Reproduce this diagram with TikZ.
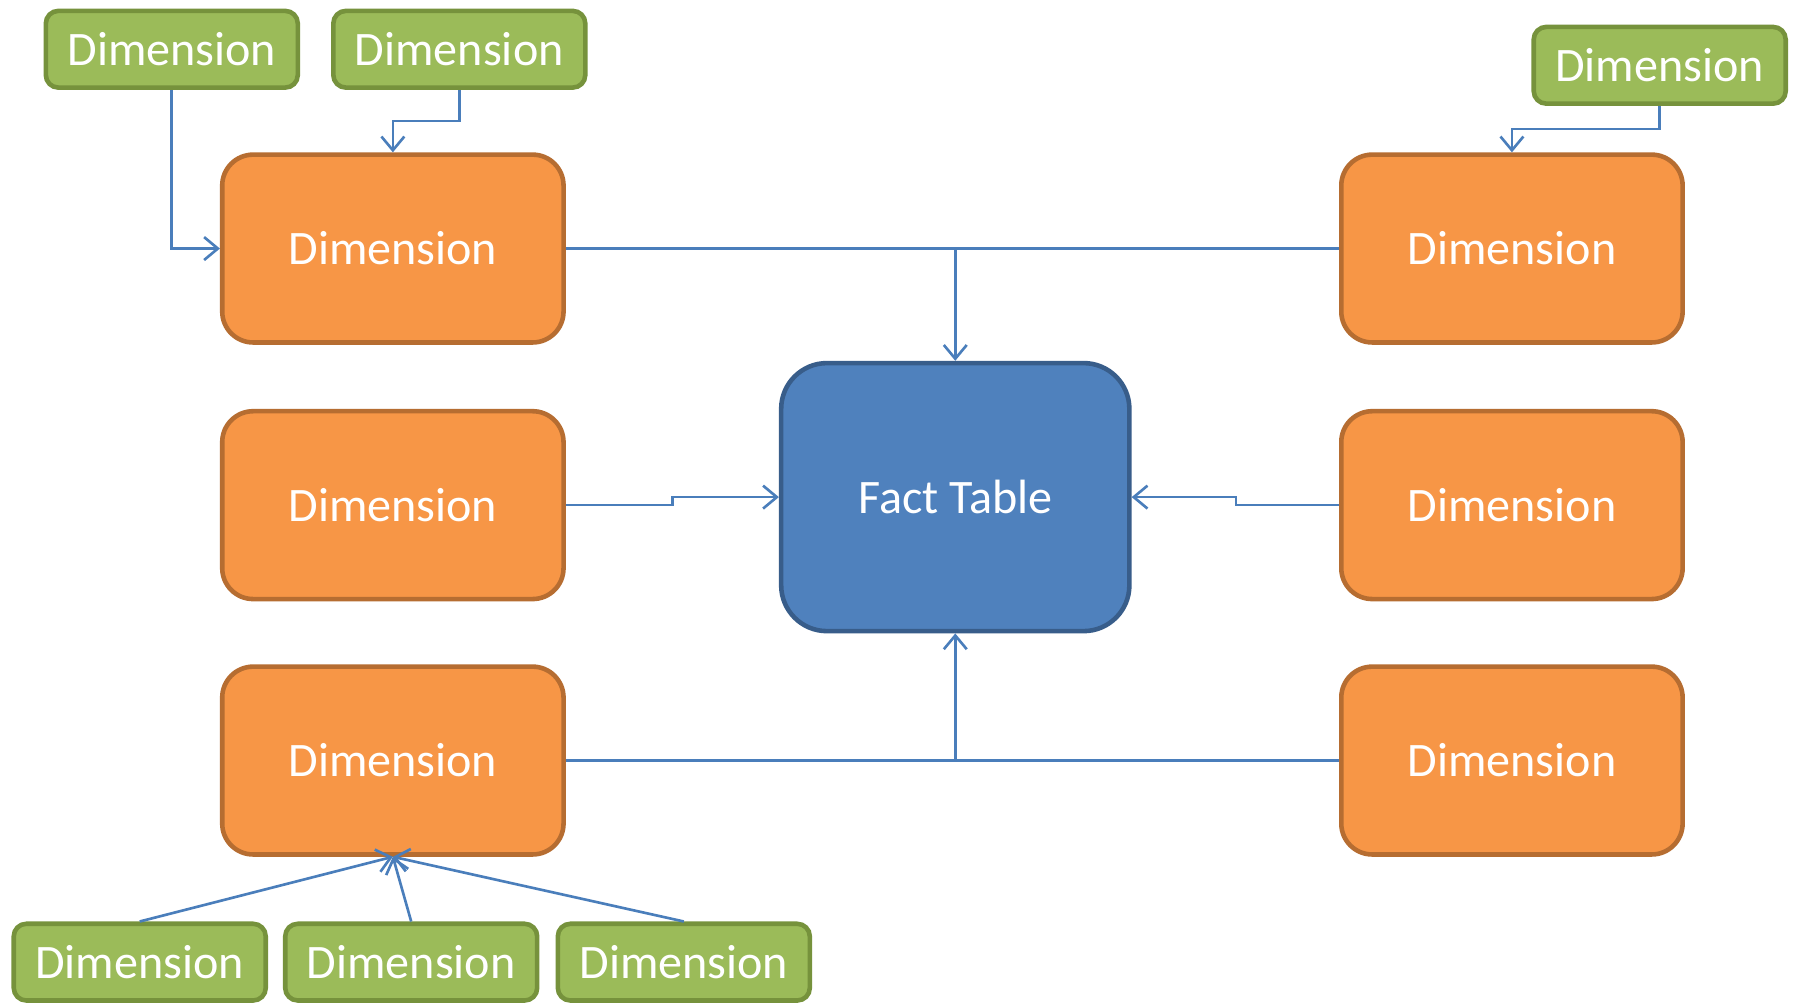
\documentclass[tikz,border=0pt]{standalone}
\usepackage{fontspec}
\setmainfont{Carlito}
\usetikzlibrary{arrows.meta}
\definecolor{gfill}{HTML}{9BBB59}
\definecolor{gdraw}{HTML}{76923C}
\definecolor{ofill}{HTML}{F79646}
\definecolor{odraw}{HTML}{B66D31}
\definecolor{bfill}{HTML}{4F81BD}
\definecolor{bdraw}{HTML}{385D8A}
\definecolor{lineblue}{HTML}{4A7EBB}
\begin{document}
\begin{tikzpicture}[x=1pt,y=-1pt,
 box/.style={rectangle, rounded corners=#1, line width=4pt, inner sep=0pt, text=white, font=\fontsize{42}{50}\selectfont},
 gbox/.style={box=11pt, fill=gfill, draw=gdraw, minimum width=220pt, minimum height=67pt},
 obox/.style={box=27pt, fill=ofill, draw=odraw, minimum width=298pt, minimum height=164pt},
 fbox/.style={box=40pt, fill=bfill, draw=bdraw, minimum width=304pt, minimum height=234pt},
 conn/.style={draw=lineblue, line width=2.3pt},
 arr/.style={conn, -{Straight Barb[length=12pt,width=20pt]}}
]
\fill[white] (0,0) rectangle (1568,877);
\useasboundingbox (0,0) rectangle (1568,877);

\node[gbox] (g1) at (150,43) {Dimension};
\node[gbox] (g2) at (401,43) {Dimension};
\node[gbox] (g3) at (1449,57) {Dimension};
\node[gbox] (g4) at (122,840) {Dimension};
\node[gbox] (g5) at (359,840) {Dimension};
\node[gbox] (g6) at (597,840) {Dimension};

\node[obox] (o1) at (343,217) {Dimension};
\node[obox] (o2) at (343,441) {Dimension};
\node[obox] (o3) at (343,664) {Dimension};
\node[obox] (o4) at (1320,217) {Dimension};
\node[obox] (o5) at (1320,441) {Dimension};
\node[obox] (o6) at (1320,664) {Dimension};

\node[fbox] (ft) at (834,434) {Fact Table};

\draw[arr] (g1.south) |- (o1.west);
\draw[arr] (g2.south) -- ++(0,27) -| (o1.north);
\draw[arr] (g3.south) -- ++(0,20) -| (o4.north);

\coordinate (jt) at (ft.north |- o1.east);
\draw[conn] (o1.east) -- (o4.west);
\draw[arr] (jt) -- (ft.north);

\draw[arr] (o2.east) -- ++(93,0) |- (ft.west);
\draw[arr] (o5.west) -- ++(-90,0) |- (ft.east);

\coordinate (jb) at (ft.south |- o3.east);
\draw[conn] (o3.east) -- (o6.west);
\draw[arr] (jb) -- (ft.south);

\draw[arr] (g4.north) -- (o3.south);
\draw[arr] (g5.north) -- (o3.south);
\draw[arr] (g6.north) -- (o3.south);
\end{tikzpicture}
\end{document}
